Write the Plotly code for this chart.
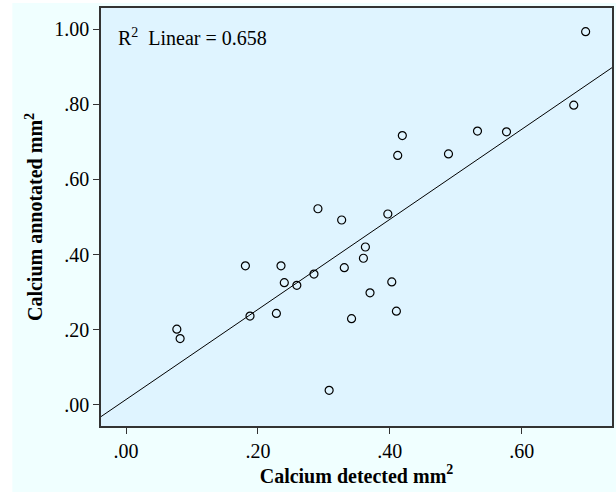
import plotly.graph_objects as go

calcium_detected = [0.077, 0.082, 0.181, 0.188, 0.228, 0.235, 0.240, 0.259, 0.285, 0.291,
                    0.308, 0.327, 0.331, 0.342, 0.360, 0.363, 0.370, 0.397, 0.403, 0.410,
                    0.412, 0.419, 0.489, 0.533, 0.577, 0.679, 0.697]
calcium_annotated = [0.201, 0.176, 0.370, 0.236, 0.243, 0.370, 0.325, 0.318, 0.348, 0.522,
                     0.038, 0.492, 0.365, 0.229, 0.390, 0.420, 0.298, 0.508, 0.327, 0.249,
                     0.664, 0.717, 0.668, 0.729, 0.727, 0.798, 0.994]
fit_intercept = 0.0136
fit_slope = 1.20
x_ticks = [0.0, 0.2, 0.4, 0.6]
x_tick_labels = [".00", ".20", ".40", ".60"]
y_ticks = [0.0, 0.2, 0.4, 0.6, 0.8, 1.0]
y_tick_labels = [".00", ".20", ".40", ".60", ".80", "1.00"]
r2_label = "R<sup>2</sup>  Linear = 0.658"

x_range = [-0.038, 0.737]
y_range = [-0.057, 1.057]

fit_x = list(x_range)
fit_y = [fit_intercept + fit_slope * v for v in fit_x]

fig = go.Figure()
fig.add_trace(go.Scatter(x=fit_x, y=fit_y, mode="lines",
                         line=dict(color="black", width=1), hoverinfo="skip"))
fig.add_trace(go.Scatter(x=calcium_detected, y=calcium_annotated, mode="markers",
                         marker=dict(symbol="circle-open", size=8, color="black",
                                     line=dict(width=1.2, color="black"))))

font_family = "Liberation Serif, Times New Roman, serif"
fig.update_layout(
    width=616, height=495,
    margin=dict(l=101, r=2, t=8, b=69),
    paper_bgcolor="white",
    plot_bgcolor="rgba(0,0,0,0)",
    showlegend=False,
    font=dict(family=font_family, size=20, color="black"),
    shapes=[
        dict(type="rect", xref="paper", yref="paper",
             x0=-0.1735, x1=1.01, y0=-0.158, y1=1.012,
             fillcolor="#F0FFFF", line=dict(width=0), layer="below"),
        dict(type="rect", xref="paper", yref="paper",
             x0=0, x1=1, y0=0, y1=1,
             fillcolor="#DFF4FF", line=dict(width=0), layer="below"),
    ],
    annotations=[dict(text=r2_label, xref="paper", yref="paper",
                      x=0.03, y=0.965, xanchor="left", yanchor="top",
                      showarrow=False, font=dict(size=20, family=font_family))],
)
fig.update_xaxes(range=x_range, tickvals=x_ticks, ticktext=x_tick_labels,
                 showgrid=False, zeroline=False, ticks="outside", ticklen=6,
                 tickcolor="#333", showline=True, linecolor="#333", linewidth=1.5,
                 mirror=True,
                 title=dict(text="<b>Calcium detected mm<sup>2</sup></b>", standoff=8,
                            font=dict(size=20)))
fig.update_yaxes(range=y_range, tickvals=y_ticks, ticktext=y_tick_labels,
                 showgrid=False, zeroline=False, ticks="outside", ticklen=6,
                 tickcolor="#333", showline=True, linecolor="#333", linewidth=1.5,
                 mirror=True,
                 title=dict(text="<b>Calcium annotated mm<sup>2</sup></b>", standoff=6,
                            font=dict(size=20)))

fig.write_html("out.html", config={"displayModeBar": False},
               post_script="document.body.style.margin='0';document.body.style.overflow='hidden';")
